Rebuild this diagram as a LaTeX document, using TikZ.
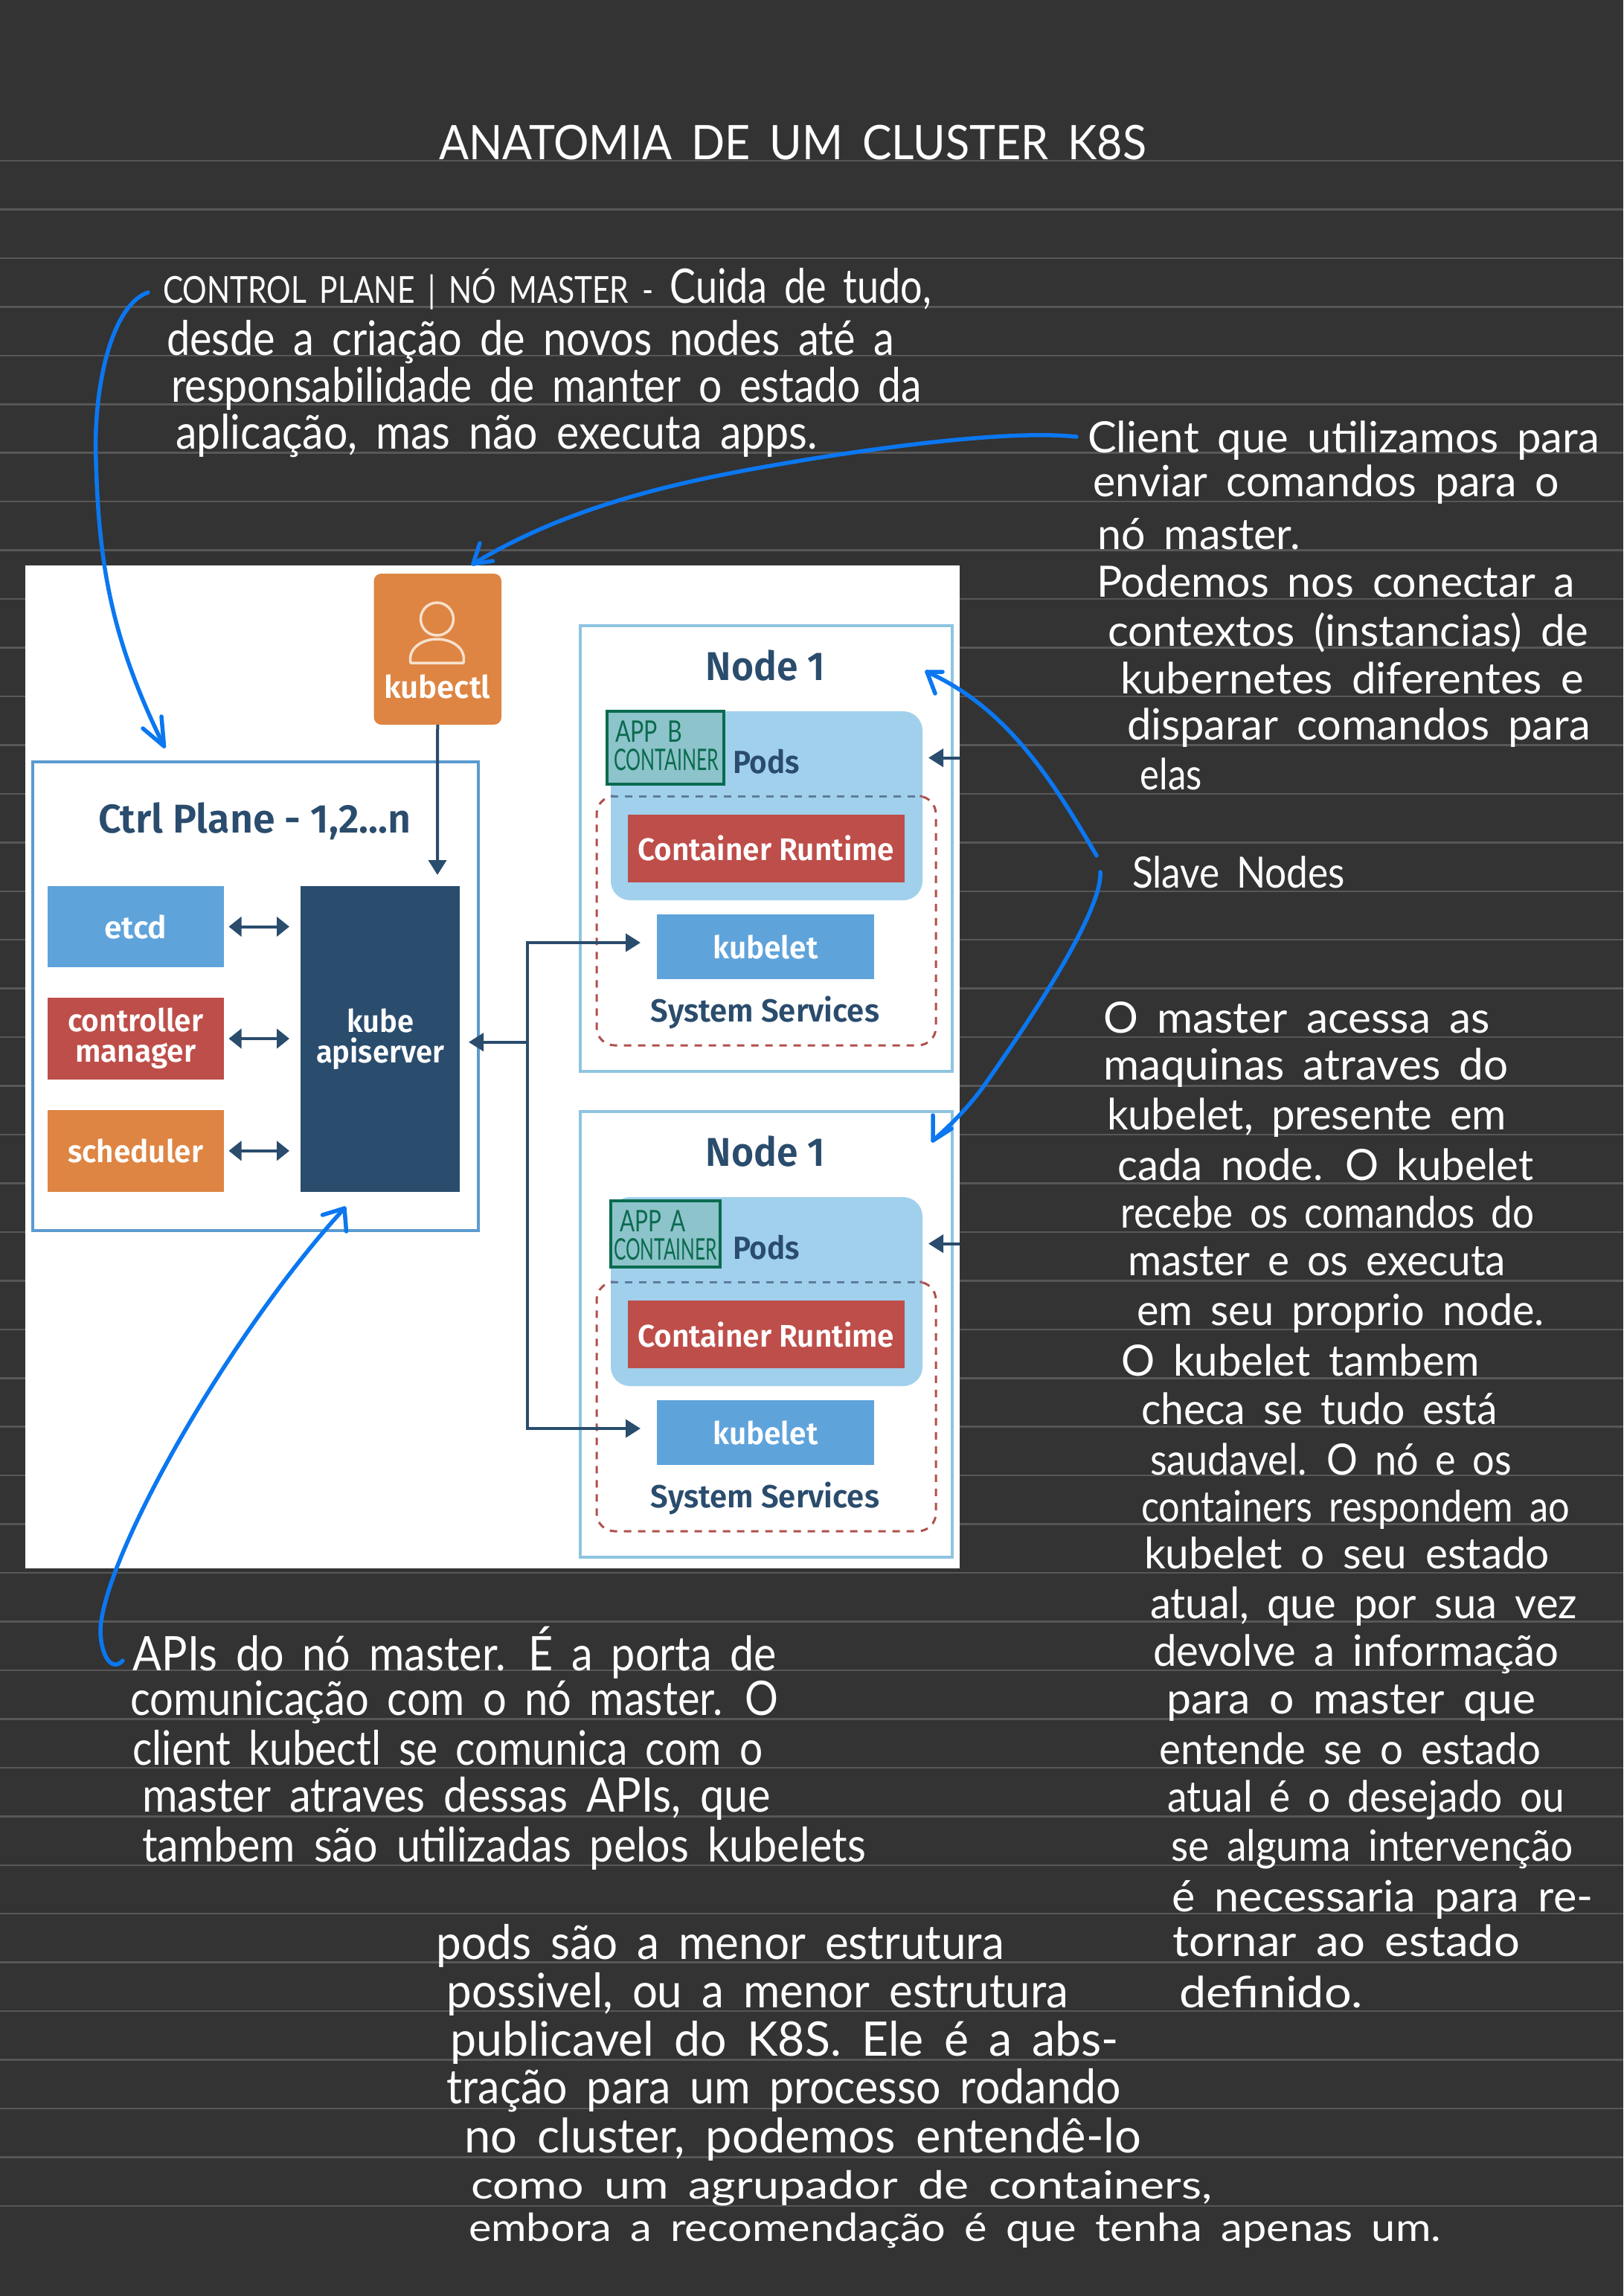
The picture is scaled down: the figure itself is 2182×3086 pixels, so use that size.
\documentclass[tikz,border=0pt]{standalone}
\usepackage{fontspec}
\usepackage{graphicx}
\usetikzlibrary{arrows.meta}
\setmainfont{Lato}
\newfontfamily\handfont{Lato}[WordSpace=1.7]
\newfontfamily\diagfont{Fira Sans SemiBold}
\definecolor{pagebg}{HTML}{333333}
\definecolor{ruled}{HTML}{575757}
\definecolor{navy}{HTML}{2A4C6D}
\definecolor{skyb}{HTML}{5FA3DB}
\definecolor{brick}{HTML}{BE4E4A}
\definecolor{amber}{HTML}{DE8543}
\definecolor{podb}{HTML}{A0D0EC}
\definecolor{nodeb}{HTML}{8EC4E0}
\definecolor{ctrlb}{HTML}{5B9BD0}
\definecolor{dashr}{HTML}{B0504C}
\definecolor{dashtop}{HTML}{5E7C9C}
\definecolor{penb}{HTML}{0B77F0}
\definecolor{appg}{HTML}{0A6B4F}
\definecolor{appfill}{HTML}{8DC3CA}
\definecolor{headline}{HTML}{F7E0CC}
\tikzset{
  handtext/.style={anchor=base west,inner sep=0pt,outer sep=0pt,text=white,font=\handfont\fontsize{58}{64}\selectfont},
  handtall/.style={handtext,font=\handfont\fontsize{64}{70}\selectfont},
  handsmall/.style={handtext,font=\handfont\fontsize{52}{58}\selectfont},
  titletext/.style={handtext,font=\handfont\fontsize{64}{70}\selectfont},
  apptext/.style={anchor=base west,inner sep=0pt,outer sep=0pt,text=appg,font=\handfont\fontsize{40}{44}\selectfont},
  diagbox/.style={inner sep=0pt,outer sep=0pt,text=white,align=center,font=\diagfont\fontsize{42}{41}\selectfont},
  label/.style={inner sep=0pt,outer sep=0pt,text=navy,font=\diagfont\fontsize{54}{58}\selectfont},
  smalllabel/.style={label,font=\diagfont\fontsize{43}{46}\selectfont},
  framebox/.style={draw=#1,line width=4pt,inner sep=0pt,outer sep=0pt},
  conn/.style={draw=navy,line width=4pt,-{Triangle[length=20pt,width=24pt]}},
  twoway/.style={draw=navy,line width=4pt,{Triangle[length=17pt,width=26pt]}-{Triangle[length=17pt,width=26pt]}},
  pen/.style={draw=penb,line width=5.5pt,line cap=round,line join=round},
  dashline/.style={line width=3pt,dash pattern=on 10pt off 9pt},
  appbox/.style={draw=appg,fill=appfill,line width=4pt,inner sep=0pt,outer sep=0pt}
}
\newcommand{\hw}[6][handtext]{%
  \pgfmathsetmacro\hwW{#4-#3}%
  \node[#1] (#2) at (#3,#5) {\resizebox{\hwW pt}{\height}{#6}};}
\newcommand{\fitw}[2]{\resizebox{#1pt}{\height}{#2}}
\newcommand{\bx}[7]{% style, name, x1,y1,x2,y2, text
  \pgfmathsetmacro\bxW{#5-#3}\pgfmathsetmacro\bxH{#6-#4}%
  \pgfmathsetmacro\bxX{(#5+#3)/2}\pgfmathsetmacro\bxY{(#6+#4)/2}%
  \node[#1,minimum width=\bxW pt,minimum height=\bxH pt] (#2) at (\bxX,\bxY) {#7};}
\newcommand{\workernode}[2]{% suffix, y offset
  \begin{scope}[yshift=-#2pt]
  \bx{framebox=nodeb}{node#1}{780}{841}{1280}{1440}{}
  \node[label] (nodetitle#1) at (1028.6,894.5) {\fitw{160}{Node 1}};
  \bx{fill=podb,rounded corners=26pt,inner sep=0pt,outer sep=0pt}{pods#1}{821}{956}{1240}{1210}{}
  \draw[dashline,draw=dashr,rounded corners=24pt] (821,1070) -- (802,1070) -- (802,1405) -- (1258,1405) -- (1258,1070) -- (1240,1070);
  \draw[dashline,draw=dashtop] (821,1070) -- (1240,1070);
  \bx{diagbox,fill=brick}{runtime#1}{844}{1094.5}{1215.5}{1186.4}{\fitw{345}{Container Runtime}}
  \bx{diagbox,fill=skyb}{kubelet#1}{883}{1229}{1175}{1316}{\fitw{141}{kubelet}}
  \node[smalllabel] (services#1) at (1028.5,1361) {\fitw{307}{System Services}};
  \node[smalllabel] (podlabel#1) at (1030,1024) {\fitw{90}{Pods}};
  \coordinate (podin#1) at (1290,1018.6);
  \draw[conn] (podin#1) -- ([xshift=8pt]podin#1 -| pods#1.east);
  \end{scope}
}
\begin{document}
\begin{tikzpicture}[x=1pt,y=-1pt]
\useasboundingbox (0,0) rectangle (2182,3086);
\fill[pagebg] (0,0) rectangle (2182,3086);
\foreach \k in {0,...,42} {
  \pgfmathsetmacro\ly{216+65.45*\k}
  \draw[ruled,line width=2.5pt] (0,\ly) -- (2182,\ly);
}
% white picture
\fill[white] (33.7,760) rectangle (1290,2108);
% kubectl
\bx{diagbox,fill=amber,rounded corners=10pt}{kubectl}{502.5}{771}{674}{974}{}
\draw[headline,line width=3.5pt] (587.5,832) circle[radius=22pt];
\draw[headline,line width=3.5pt,line join=round] (552,891) -- (623,891) .. controls (627,870) and (606,859) .. (587.5,859) .. controls (569,859) and (548,870) .. (552,891) -- cycle;
\node[diagbox] (kubectllabel) at (587.5,923) {\fitw{143}{kubectl}};
% control plane
\bx{framebox=ctrlb}{ctrl}{44}{1024}{643}{1654}{}
\node[label] (ctrltitle) at (342.6,1104) {\fitw{420}{Ctrl Plane - 1,2...n}};
\bx{diagbox,fill=skyb}{etcd}{64}{1191}{300.5}{1300}{\fitw{84}{etcd}}
\bx{diagbox,fill=brick}{controller}{64}{1341}{300.5}{1451}{\fitw{182}{controller}\\\fitw{162}{manager}}
\bx{diagbox,fill=amber}{scheduler}{64}{1492}{300.5}{1601.6}{\fitw{182}{scheduler}}
\bx{diagbox,fill=navy}{api}{404}{1191}{618}{1601.6}{\fitw{90}{kube}\\\fitw{172}{apiserver}}
\coordinate (kend) at (588,1176);
\draw[conn] (kubectl.south) -- (kend);
\draw[twoway] ([xshift=7pt]etcd.east) -- ([xshift=-15pt]etcd.east -| api.west);
\draw[twoway] ([xshift=7pt]controller.east) -- ([xshift=-15pt]controller.east -| api.west);
\draw[twoway] ([xshift=7pt]scheduler.east) -- ([xshift=-15pt]scheduler.east -| api.west);
% worker nodes
\workernode{A}{0}
\workernode{B}{653}
% connectors to kubelets
\coordinate (jct) at (709,1400.7);
\draw[conn] (jct) -- ([xshift=12pt]api.east |- jct);
\draw[conn] (jct) |- ([xshift=-22pt,yshift=5.5pt]kubeletA.west);
\draw[conn] (jct) |- ([xshift=-22pt,yshift=5.5pt]kubeletB.west);
% app boxes
\bx{appbox}{appb}{815.6}{956}{973}{1054}{}
\bx{appbox}{appa}{821}{1614}{968}{1703}{}
\hw[apptext]{appb1}{827}{917}{997}{APP B}
\hw[apptext]{appb2}{825}{966}{1035}{CONTAINER}
\hw[apptext]{appa1}{833}{922}{1655}{APP A}
\hw[apptext]{appa2}{825}{964}{1693.5}{CONTAINER}
% title
\hw[titletext]{title}{590}{1541}{214}{ANATOMIA DE UM CLUSTER K8S}
% control plane note
\hw[handtall]{c1}{219}{1252}{407.6}{{\fontsize{50}{56}\selectfont CONTROL PLANE | NÓ MASTER -} Cuida de tudo,}
\hw[handtall]{c2}{224}{1202}{477}{desde a criação de novos nodes até a}
\hw[handtall]{c3}{230}{1239}{540}{responsabilidade de manter o estado da}
\hw[handtall]{c4}{236}{1099}{603}{aplicação, mas não executa apps.}
% client note
\hw{k1}{1462}{2150}{608}{Client que utilizamos para}
\hw{k2}{1469.5}{2096}{667}{enviar comandos para o}
\hw{k3}{1475.5}{1748}{738}{nó master.}
\hw{k4}{1474}{2117}{802}{Podemos nos conectar a}
\hw{k5}{1489}{2135}{868}{contextos (instancias) de}
\hw{k6}{1506}{2129}{932}{kubernetes diferentes e}
\hw{k7}{1515}{2138}{994}{disparar comandos para}
\hw{k8}{1532.6}{1615.5}{1061.5}{elas}
\hw{slave}{1522}{1808}{1193.6}{Slave Nodes}
% master note
\hw{m1}{1483}{2003}{1388}{O master acessa as}
\hw{m2}{1483}{2027.5}{1451}{maquinas atraves do}
\hw{m3}{1488}{2025}{1518}{kubelet, presente em}
\hw{m4}{1502.6}{2061.5}{1586}{cada node. O kubelet}
\hw{m5}{1506.5}{2062.5}{1650}{recebe os comandos do}
\hw{m6}{1516}{2024}{1714}{master e os executa}
\hw{m7}{1528}{2076}{1781}{em seu proprio node.}
\hw{m8}{1507.5}{1988.6}{1849}{O kubelet tambem}
\hw{m9}{1534}{2013}{1914}{checa se tudo está}
\hw{m10}{1546}{2032}{1982}{saudavel. O nó e os}
\hw{m11}{1534}{2110}{2045}{containers respondem ao}
\hw{m12}{1538}{2083}{2108}{kubelet o seu estado}
\hw{m13}{1546}{2120}{2175}{atual, que por sua vez}
\hw{m14}{1550}{2095.5}{2239}{devolve a informação}
\hw{m15}{1568}{2064}{2303}{para o master que}
\hw{m16}{1558.5}{2071}{2371.5}{entende se o estado}
\hw{m17}{1569.7}{2103}{2435}{atual é o desejado ou}
\hw{m18}{1574.5}{2115}{2501.6}{se alguma intervenção}
\hw{m19}{1575.5}{2141.7}{2569}{é necessaria para re-}
\hw{m20}{1576.5}{2043}{2629}{tornar ao estado}
\hw{m21}{1585}{1832}{2698}{definido.}
% API note
\hw[handtall]{a1}{178.6}{1044}{2245}{APIs do nó master. É a porta de}
\hw[handtall]{a2}{175}{1046}{2305}{comunicação com o nó master. O}
\hw[handtall]{a3}{178.6}{1025}{2372}{client kubectl se comunica com o}
\hw[handtall]{a4}{191}{1036}{2435}{master atraves dessas APIs, que}
\hw[handtall]{a5}{191}{1164}{2502}{tambem são utilizadas pelos kubelets}
% pods note
\hw[handtall]{p1}{586.6}{1350}{2633}{pods são a menor estrutura}
\hw[handtall]{p2}{600.5}{1436}{2698}{possivel, ou a menor estrutura}
\hw[handtall]{p3}{605}{1504}{2763}{publicavel do K8S. Ele é a abs-}
\hw[handtall]{p4}{600.5}{1506.5}{2827}{tração para um processo rodando}
\hw[handtall]{p5}{624}{1534}{2893}{no cluster, podemos entendê-lo}
\hw[handsmall]{p6}{633}{1629}{2955}{como um agrupador de containers,}
\hw[handsmall]{p7}{630}{1937}{3012}{embora a recomendação é que tenha apenas um.}
% blue annotation arrows
\coordinate (s1) at (199,393); \coordinate (m1c) at (129,620); \coordinate (t1) at (220.5,1003);
\draw[pen] (s1) .. controls (150,410) and (125,520) .. (m1c) .. controls (133,760) and (150,860) .. (t1);
\draw[pen] (192,979) -- (t1) -- (217,963);
\coordinate (s2) at (1447,587); \coordinate (m2c) at (1095,616); \coordinate (t2) at (636,758);
\draw[pen] (s2) .. controls (1380,580) and (1260,590) .. (m2c) .. controls (950,640) and (780,670) .. (t2);
\draw[pen] (645,730) -- (t2) -- (662.5,754);
\coordinate (s3) at (1474,1150); \coordinate (t3) at (1246,903);
\draw[pen] (s3) .. controls (1410,1040) and (1350,950) .. (t3);
\draw[pen] (1267,903) -- (t3) -- (1257,932);
\coordinate (s4) at (1479,1172); \coordinate (m4c) at (1320,1463); \coordinate (t4) at (1254,1533);
\draw[pen] (s4) .. controls (1482,1220) and (1400,1350) .. (m4c) .. controls (1300,1490) and (1275,1515) .. (t4);
\draw[pen] (1254,1499) -- (t4) -- (1279,1517);
\coordinate (s5) at (165,2232); \coordinate (m5c) at (135,2190); \coordinate (t5) at (463,1624);
\draw[pen] (s5) .. controls (150,2248) and (135,2225) .. (m5c) .. controls (140,2090) and (310,1790) .. (t5);
\draw[pen] (433.5,1633) -- (t5) -- (465.5,1655);
\end{tikzpicture}
\end{document}
